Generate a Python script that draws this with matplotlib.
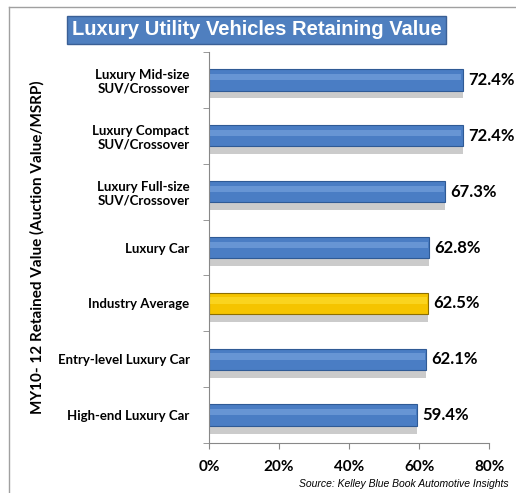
import matplotlib.pyplot as plt
from matplotlib.lines import Line2D

categories = ["Luxury Mid-size\nSUV/Crossover", "Luxury Compact\nSUV/Crossover",
              "Luxury Full-size\nSUV/Crossover", "Luxury Car", "Industry Average",
              "Entry-level Luxury Car", "High-end Luxury Car"]
values = [72.4, 72.4, 67.3, 62.8, 62.5, 62.1, 59.4]
highlight = "Industry Average"
xticks = [0, 20, 40, 60, 80]

fig = plt.figure(figsize=(5.16, 4.93), dpi=100)
ax = fig.add_axes([0.405, 0.1014, 0.543, 0.793])

h = 0.38
for i, (cat, v) in enumerate(zip(categories, values)):
    if cat == highlight:
        base, light, edge = "#F5C400", "#FFE23A", "#8C6E00"
    else:
        base, light, edge = "#4A7DC4", "#7FA9E2", "#2F5A95"
    # shadow
    ax.barh(i + 0.14, v, height=h, color="#8C8C8C", alpha=0.45, zorder=1)
    ax.barh(i, v, height=h, color=base, edgecolor=edge, linewidth=0.8, zorder=2)
    ax.barh(i - 0.05, v - 0.6, left=0.3, height=h * 0.3, color=light, alpha=0.55,
            linewidth=0, zorder=3)
    ax.text(v + 1.5, i, f"{v:.1f}%", va="center", ha="left", fontsize=12,
            fontweight="bold", family="Lato")

ax.set_xlim(0, 80)
ax.set_ylim(len(categories) - 0.5, -0.5)
ax.set_xticks(xticks)
ax.set_xticklabels([f"{t}%" for t in xticks], fontsize=11, fontweight="bold", family="Lato")
ax.set_yticks(range(len(categories)))
ax.set_yticklabels(categories, fontsize=9.5, fontweight="bold", family="Lato")
ax.set_yticks([i + 0.5 for i in range(-1, len(categories))], minor=True)
ax.tick_params(axis="y", which="major", length=0, pad=14)
ax.tick_params(axis="y", which="minor", length=4, color="#888888")
ax.tick_params(axis="x", length=4, color="#888888", pad=8)
for s in ["top", "right"]:
    ax.spines[s].set_visible(False)
for s in ["left", "bottom"]:
    ax.spines[s].set_color("#888888")

ax.set_ylabel("MY10- 12 Retained Value (Auction Value/MSRP)", fontsize=11,
              fontweight="bold", family="Lato")
ax.yaxis.set_label_coords(-0.585, 0.5)

fig.text(0.497, 0.9395, "Luxury Utility Vehicles Retaining Value", ha="center", va="center",
         color="white", fontsize=14.5, fontweight="bold", family="Liberation Sans",
         bbox=dict(boxstyle="square,pad=0.22", facecolor="#4F7FBF", edgecolor="#3A5F95"))

fig.text(0.985, 0.018, "Source: Kelley Blue Book Automotive Insights", ha="right",
         va="center", fontsize=7.5, style="italic", family="Liberation Sans")

fig.add_artist(Line2D([0.017, 1.0], [0.986, 0.986], color="#A0A0A0", lw=1))
fig.add_artist(Line2D([0.017, 0.017], [0.0, 0.986], color="#A0A0A0", lw=1))

fig.savefig("out.png", dpi=100)
